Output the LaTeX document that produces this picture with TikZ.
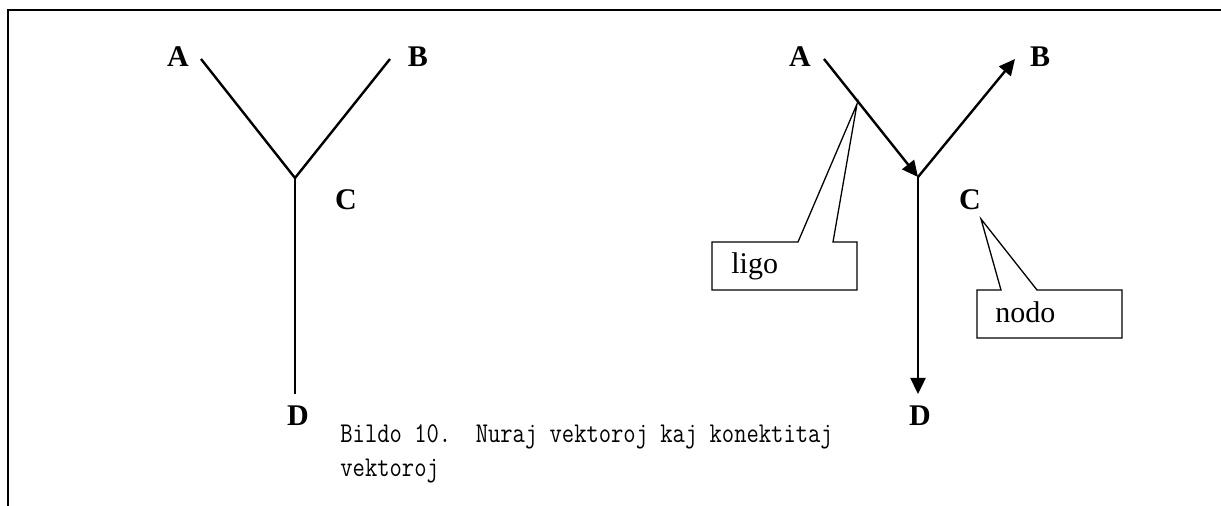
\documentclass[tikz,border=0pt]{standalone}
\usepackage{fontspec}
\setmainfont{Liberation Serif}
\usetikzlibrary{arrows.meta}

\begin{document}
\begin{tikzpicture}[x=0.5pt,y=-0.5pt,
    lbl/.style={font=\fontsize{15}{18}\selectfont\bfseries, inner sep=0pt},
    edge/.style={line width=1.2pt},
    vec/.style={line width=1.2pt, -{Triangle[length=8pt,width=7.5pt]}},
    callout/.style={draw, line width=0.65pt},
    calltext/.style={font=\fontsize{15}{18}\selectfont, anchor=base west, inner sep=0pt},
    captext/.style={font=\fontsize{11.95}{17}\selectfont\ttfamily, anchor=base west, inner sep=0pt}]
  \useasboundingbox (0,0) rectangle (1221,506);
  % frame
  \draw[line width=1pt] (1221,10) -- (8,10) -- (8,506);

  % Define nodes
  \node[lbl] (A1) at (178,57) {A};
  \node[lbl] (B1) at (418,57) {B};
  \node[lbl] (C1) at (346,200) {C};
  \node[lbl] (D1) at (298,416) {D};
  \node[lbl] (A2) at (800,57) {A};
  \node[lbl] (B2) at (1040,57) {B};
  \node[lbl] (C2) at (970,200) {C};
  \node[lbl] (D2) at (920,416) {D};

  \coordinate (a1) at (201,59);
  \coordinate (b1) at (390,59);
  \coordinate (j1) at (295,178);
  \coordinate (d1) at (295,394);
  \coordinate (a2) at (824,59);
  \coordinate (b2) at (1015,59);
  \coordinate (j2) at (918,177);
  \coordinate (d2) at (918,394);

  % Draw edges
  \draw[edge] (a1) -- (j1) -- (b1);
  \draw[edge] (j1) -- (d1);
  \draw[vec] (a2) -- (j2);
  \draw[vec] (j2) -- (b2);
  \draw[vec] (j2) -- (d2);

  % callouts
  \draw[callout] (712,242) -- (798,242) -- (857,104) -- (833,242) -- (857,242)
    -- (857,290) -- (712,290) -- cycle;
  \node[calltext] (ligo) at (731,274) {ligo};
  \draw[callout] (977,290) -- (1001,290) -- (981,219) -- (1037,290) -- (1122,290)
    -- (1122,338) -- (977,338) -- cycle;
  \node[calltext] (nodo) at (995,323) {nodo};

  % caption
  \node[captext] (cap1) at (340,443)
    {\scalebox{1}[1.2]{Bildo 10.\ \ Nuraj vektoroj kaj konektitaj}};
  \node[captext] (cap2) at (340,477) {\scalebox{1}[1.2]{vektoroj}};
\end{tikzpicture}
\end{document}
